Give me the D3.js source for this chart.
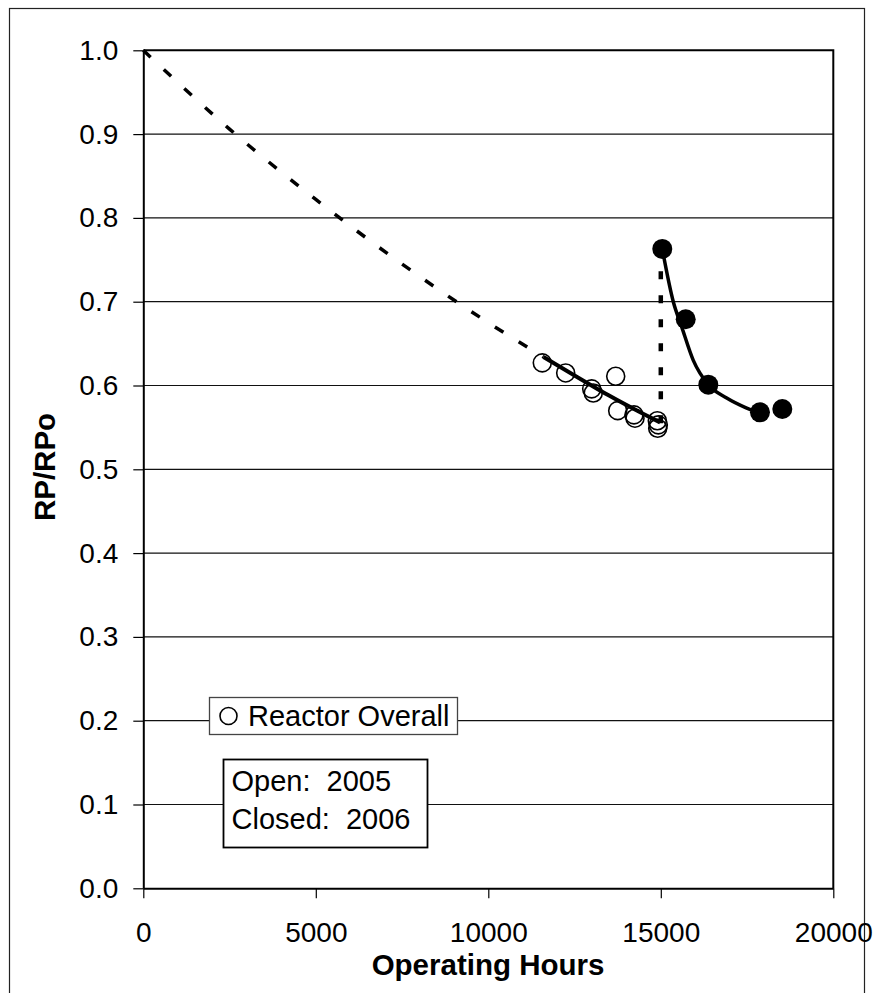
<!DOCTYPE html>
<html>
<head>
<meta charset="utf-8">
<script src="https://cdn.jsdelivr.net/npm/d3@7"></script>
<style>
  html, body { margin: 0; padding: 0; background: #fff; }
  svg { display: block; font-family: "Liberation Sans", Arial, sans-serif; }
</style>
</head>
<body>
<svg id="chart" width="874" height="993"></svg>
<script>
// ---- data ----
const openHours  = [11565, 12243, 12997, 13043, 13693, 13751, 14223, 14252, 14899, 14928, 14910];
const openRatio  = [0.627, 0.615, 0.596, 0.591, 0.611, 0.570, 0.565, 0.561, 0.558, 0.553, 0.549];

const closedHours = [15043, 15722, 16377, 17875, 18522];
const closedRatio = [0.763, 0.679, 0.601, 0.568, 0.572];

// fitted trend for the open period (dashed extrapolation, then solid over data)
const trendDashHours = [0, 2500, 5000, 7500, 10000, 11600];
const trendDashRatio = [1.000, 0.906, 0.822, 0.745, 0.675, 0.634];
const trendSolidHours = [11600, 12500, 13500, 14500, 14980];
const trendSolidRatio = [0.634, 0.612, 0.588, 0.566, 0.556];

// fitted curve for the closed period
const closedFitHours = [15043, 15362, 15606, 15942, 16377, 16910, 17490, 17875];
const closedFitRatio = [0.763, 0.700, 0.670, 0.630, 0.601, 0.585, 0.573, 0.567];

// step between periods
const stepHours = [15000, 15000];
const stepRatio = [0.555, 0.763];

const xTicks = [0, 5000, 10000, 15000, 20000];
const yTicks = [0.0, 0.1, 0.2, 0.3, 0.4, 0.5, 0.6, 0.7, 0.8, 0.9, 1.0];
const legendLabel = "Reactor Overall";
const noteLines = ["Open:  2005", "Closed:  2006"];
const xTitle = "Operating Hours";
const yTitle = "RP/RPo";

// ---- drawing ----
const svg = d3.select("#chart");
const pLeft = 143.3, pRight = 833.3, pTop = 50.3, pBottom = 888.3;

const x = d3.scaleLinear().domain([0, 20000]).range([pLeft, pRight]);
const y = d3.scaleLinear().domain([0, 1]).range([pBottom, pTop]);

// outer frame
svg.append("rect").attr("x", 9.5).attr("y", 8.5).attr("width", 855).attr("height", 1000)
  .attr("fill", "none").attr("stroke", "#222").attr("stroke-width", 1.2);

// gridlines
svg.append("g").selectAll("line").data(yTicks.filter(v => v > 0 && v < 1)).join("line")
  .attr("x1", pLeft).attr("x2", pRight)
  .attr("y1", d => y(d)).attr("y2", d => y(d))
  .attr("stroke", "#111").attr("stroke-width", 1.2);

// plot border top/right
svg.append("path")
  .attr("d", `M${pLeft},${pTop}H${pRight}V${pBottom}`)
  .attr("fill", "none").attr("stroke", "#000").attr("stroke-width", 2);

// axes
const yAxis = d3.axisLeft(y).tickValues(yTicks).tickFormat(d3.format(".1f"))
  .tickSize(10).tickSizeOuter(0).tickPadding(15);
const gy = svg.append("g").attr("transform", `translate(${pLeft},0)`).call(yAxis);
gy.select(".domain").attr("stroke", "#000").attr("stroke-width", 2);
gy.selectAll(".tick line").attr("stroke", "#000").attr("stroke-width", 1.2);
gy.selectAll(".tick text").attr("font-size", 28).attr("fill", "#000")
  .attr("font-family", "Liberation Sans, Arial, sans-serif");

const xAxis = d3.axisBottom(x).tickValues(xTicks).tickFormat(d3.format("d"))
  .tickSize(10).tickSizeOuter(0).tickPadding(24);
const gx = svg.append("g").attr("transform", `translate(0,${pBottom})`).call(xAxis);
gx.select(".domain").attr("stroke", "#000").attr("stroke-width", 2);
gx.selectAll(".tick line").attr("stroke", "#000").attr("stroke-width", 1.2);
gx.selectAll(".tick text").attr("font-size", 28).attr("fill", "#000")
  .attr("font-family", "Liberation Sans, Arial, sans-serif");

// axis titles
svg.append("text").attr("x", 488).attr("y", 975).attr("text-anchor", "middle")
  .attr("font-size", 29.5).attr("font-weight", "bold").text(xTitle);
svg.append("text").attr("transform", "translate(55,467) rotate(-90)")
  .attr("text-anchor", "middle").attr("font-size", 29.5).attr("font-weight", "bold").text(yTitle);

// trend lines
const line = d3.line().x(d => x(d[0])).y(d => y(d[1])).curve(d3.curveMonotoneX);
const zip = (a, b) => a.map((v, i) => [v, b[i]]);

svg.append("path").datum(zip(trendDashHours, trendDashRatio)).attr("d", line)
  .attr("fill", "none").attr("stroke", "#000").attr("stroke-width", 3.5)
  .attr("stroke-dasharray", "10 18");
svg.append("path").datum(zip(trendSolidHours, trendSolidRatio)).attr("d", line)
  .attr("fill", "none").attr("stroke", "#000").attr("stroke-width", 4);

// open circles
svg.append("g").selectAll("circle").data(zip(openHours, openRatio)).join("circle")
  .attr("cx", d => x(d[0])).attr("cy", d => y(d[1])).attr("r", 9)
  .attr("fill", "none").attr("stroke", "#000").attr("stroke-width", 1.6);

// step dashed vertical
svg.append("line")
  .attr("x1", x(stepHours[0])).attr("x2", x(stepHours[1]))
  .attr("y1", y(stepRatio[0])).attr("y2", y(stepRatio[1]))
  .attr("stroke", "#000").attr("stroke-width", 4.5).attr("stroke-dasharray", "8 16");

// closed fit curve
svg.append("path").datum(zip(closedFitHours, closedFitRatio)).attr("d", line)
  .attr("fill", "none").attr("stroke", "#000").attr("stroke-width", 3.5);

// filled circles
svg.append("g").selectAll("circle").data(zip(closedHours, closedRatio)).join("circle")
  .attr("cx", d => x(d[0])).attr("cy", d => y(d[1])).attr("r", 10)
  .attr("fill", "#000");

// legend box
const lg = svg.append("g");
lg.append("rect").attr("x", 209.5).attr("y", 697.5).attr("width", 248).attr("height", 37)
  .attr("fill", "#fff").attr("stroke", "#444").attr("stroke-width", 1.3);
lg.append("circle").attr("cx", 228.5).attr("cy", 716).attr("r", 8.5)
  .attr("fill", "none").attr("stroke", "#000").attr("stroke-width", 1.6);
lg.append("text").attr("x", 248).attr("y", 726).attr("font-size", 29).text(legendLabel);

// note box
const nb = svg.append("g");
nb.append("rect").attr("x", 223.5).attr("y", 759.5).attr("width", 204).attr("height", 88)
  .attr("fill", "#fff").attr("stroke", "#000").attr("stroke-width", 1.8);
nb.selectAll("text").data(noteLines).join("text")
  .attr("x", 231.5).attr("y", (d, i) => 791 + i * 37.5)
  .attr("font-size", 29).attr("xml:space", "preserve").style("white-space", "pre")
  .text(d => d);
</script>
</body>
</html>
